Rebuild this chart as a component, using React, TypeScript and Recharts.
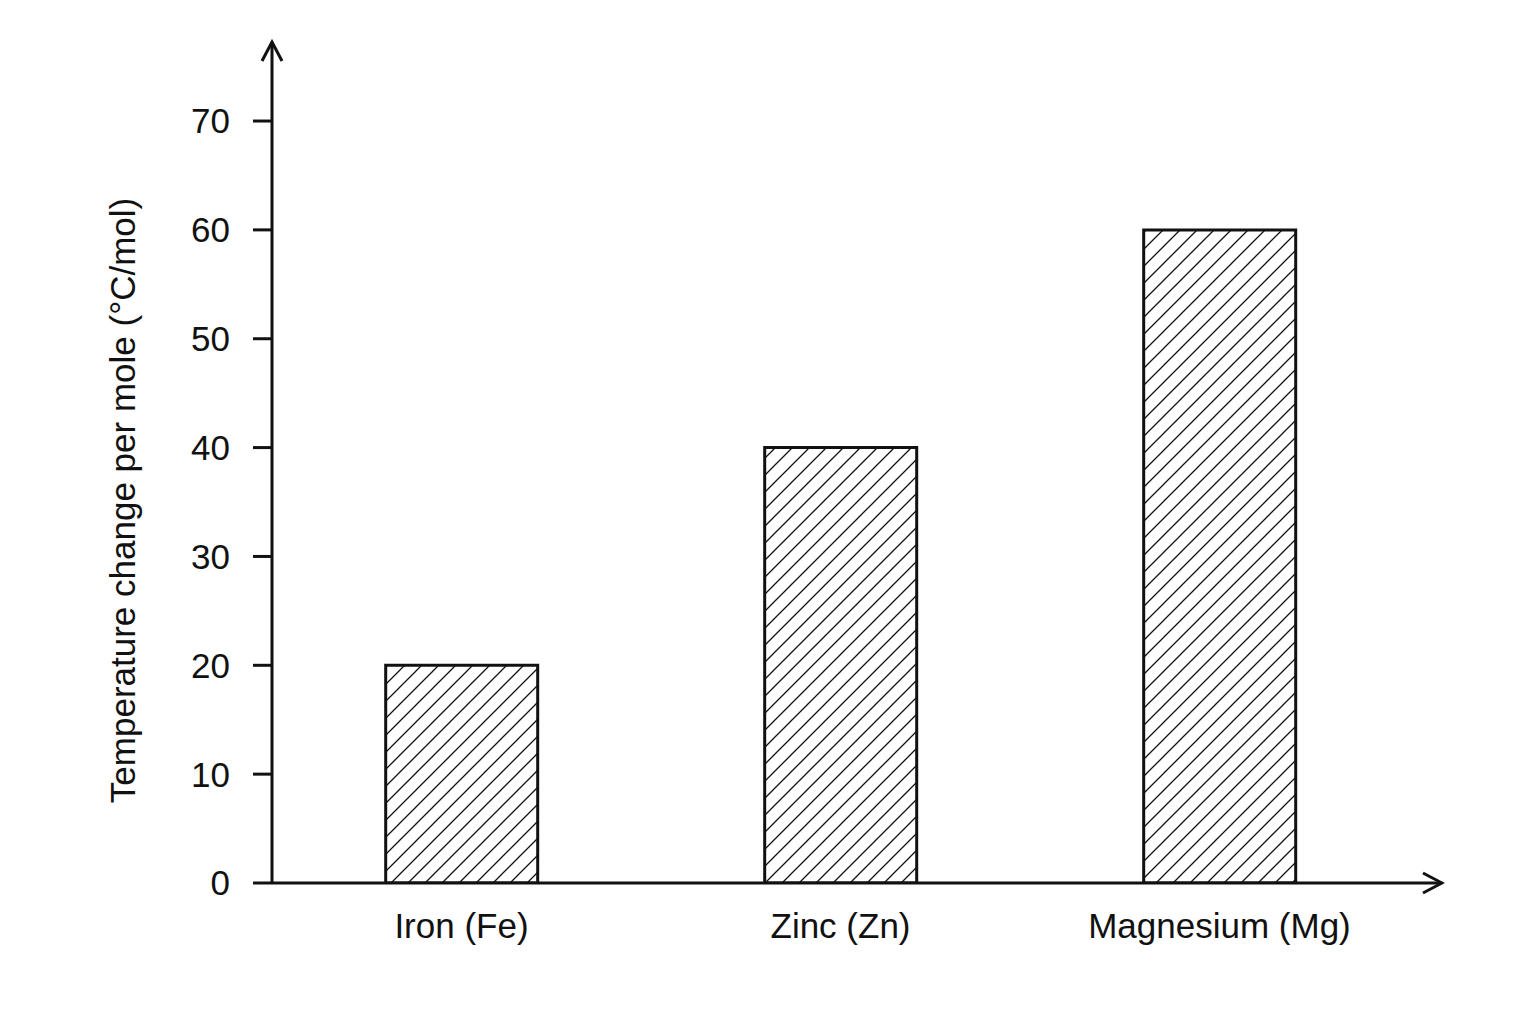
import React from 'react';
import { BarChart, Bar, XAxis, YAxis } from 'recharts';

// metals and their temperature rise per mole
const metals = ['Iron (Fe)', 'Zinc (Zn)', 'Magnesium (Mg)'];
const tempChange = [20, 40, 60];
const yTicks = [0, 10, 20, 30, 40, 50, 60, 70];

const data = metals.map((m, i) => ({ metal: m, value: tempChange[i] }));

const ink = '#111';
const font = 'Arial, "Liberation Sans", Helvetica, sans-serif';

function Defs() {
  return (
    <svg width={0} height={0} style={{ position: 'absolute' }}>
      <defs>
        <pattern id="hatch" width={17} height={17} patternUnits="userSpaceOnUse">
          <path d="M0,17 L17,0 M-2,2 L2,-2 M15,19 L19,15" stroke={ink} strokeWidth={1.3} />
        </pattern>
        <marker
          id="arrow"
          viewBox="0 0 24 24"
          markerWidth={24}
          markerHeight={24}
          markerUnits="userSpaceOnUse"
          refX={21}
          refY={12}
          orient="auto-start-reverse"
        >
          <path d="M2,2 L21,12 L2,22" fill="none" stroke={ink} strokeWidth={3} />
        </marker>
      </defs>
    </svg>
  );
}

export default function App() {
  return (
    <div style={{ fontFamily: font, background: '#fff' }}>
      <Defs />
      <BarChart
        width={1520}
        height={1000}
        data={data}
        margin={{ top: 34, right: 86, bottom: 65, left: 114 }}
        barCategoryGap="30%"
      >
        <XAxis
          dataKey="metal"
          height={60}
          padding={{ left: 0, right: 33 }}
          tickLine={false}
          tickSize={0}
          tickMargin={30}
          axisLine={{ stroke: ink, strokeWidth: 3, markerEnd: 'url(#arrow)' }}
          tick={{ fill: ink, fontSize: 35, fontFamily: font }}
        />
        <YAxis
          width={150}
          domain={[0, 77.26]}
          ticks={yTicks}
          interval={0}
          allowDataOverflow
          tickSize={19}
          tickMargin={23}
          axisLine={{ stroke: ink, strokeWidth: 3, markerStart: 'url(#arrow)' }}
          tickLine={{ stroke: ink, strokeWidth: 3 }}
          tick={{ fill: ink, fontSize: 35, fontFamily: font }}
          label={{
            value: 'Temperature change per mole (°C/mol)',
            angle: -90,
            position: 'center',
            dx: -74,
            dy: 38,
            fill: ink,
            fontSize: 35,
            fontFamily: font,
          }}
        />
        <Bar dataKey="value" fill="url(#hatch)" stroke={ink} strokeWidth={3} isAnimationActive={false} />
      </BarChart>
    </div>
  );
}
